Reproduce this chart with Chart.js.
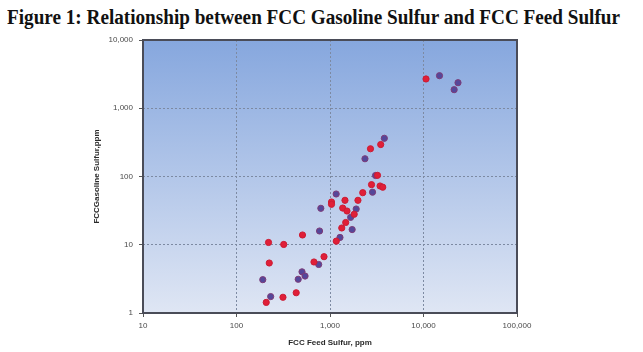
<!DOCTYPE html>
<html>
<head>
<meta charset="utf-8">
<script src="https://cdn.jsdelivr.net/npm/chart.js@4.4.1/dist/chart.umd.min.js"></script>
<style>
  html, body { margin: 0; padding: 0; background: #ffffff; }
  #wrap { position: relative; width: 643px; height: 352px; overflow: hidden; }
  #title { position: absolute; left: 7px; top: 4px; white-space: nowrap;
           font-family: "Liberation Serif", "Times New Roman", serif; font-weight: bold;
           font-size: 20px; color: #111; transform-origin: 0 0; line-height: 26px; }
  canvas { position: absolute; left: 0; top: 0; }
</style>
</head>
<body>
<div id="wrap">
  <div id="title">Figure 1: Relationship between FCC Gasoline Sulfur and FCC Feed Sulfur</div>
  <canvas id="c" width="643" height="352"></canvas>
</div>
<script>
// ---- data ----
const redFeed = [10640, 3486, 2710, 3221, 2780, 3430, 3665, 2240, 1990, 1446, 1038, 1038, 1367, 1520, 1815, 1472, 1336, 1167, 508, 220, 320, 863, 674, 224, 435, 314, 208];
const redGasoline = [2685, 294, 255, 104, 76, 72.6, 69.7, 57.9, 44.8, 44.8, 42.3, 39.1, 34.5, 31.2, 28.0, 21.2, 17.6, 11.3, 13.9, 10.8, 10.1, 6.68, 5.59, 5.40, 1.98, 1.70, 1.43];
const blueFeed = [14830, 23390, 21280, 3811, 2366, 3069, 2850, 1164, 1905, 1663, 1726, 1279, 798, 773, 757, 502, 541, 457, 191, 232];
const blueGasoline = [3000, 2367, 1871, 363, 182, 103.5, 58.9, 55.4, 33.4, 25.2, 16.7, 12.8, 34.2, 15.9, 5.14, 4.01, 3.48, 3.12, 3.08, 1.74];
const xTickValues = [10, 100, 1000, 10000, 100000];
const xTickLabels = ['10', '100', '1,000', '10,000', '100,000'];
const yTickValues = [1, 10, 100, 1000, 10000];
const yTickLabels = ['1', '10', '100', '1,000', '10,000'];
const xTitle = 'FCC Feed Sulfur, ppm';
const yTitle = 'FCCGasoline Sulfur,ppm';

// fit title width
(function(){
  const t = document.getElementById('title');
  const w = t.getBoundingClientRect().width;
  t.style.transform = 'scaleX(' + (613 / w) + ')';
})();

function pts(xs, ys) { return xs.map((x, i) => ({x: x, y: ys[i]})); }

const areaPlugin = {
  id: 'areaPlugin',
  beforeDraw(chart) {
    const {ctx, chartArea: a} = chart;
    const g = ctx.createLinearGradient(0, a.top, 0, a.bottom);
    g.addColorStop(0, '#86a7de');
    g.addColorStop(1, '#dfe6f4');
    ctx.save();
    ctx.fillStyle = g;
    ctx.fillRect(a.left, a.top, a.right - a.left, a.bottom - a.top);
    ctx.restore();
  },
  afterDatasetsDraw(chart) {
    const {ctx, chartArea: a} = chart;
    ctx.save();
    ctx.strokeStyle = '#4a4c58';
    ctx.lineWidth = 2;
    ctx.strokeRect(a.left, a.top, a.right - a.left, a.bottom - a.top);
    ctx.restore();
  }
};

const tickFont = {family: 'Arial, "Liberation Sans", sans-serif', size: 8};
const titleFont = {family: 'Arial, "Liberation Sans", sans-serif', size: 8, weight: 'bold'};
const gridOpts = { color: '#7d8aa2', lineWidth: 1, tickLength: 4, tickColor: '#555', tickBorderDash: [] };
const borderOpts = { display: false, dash: [2, 2] };

new Chart(document.getElementById('c'), {
  type: 'scatter',
  data: {
    datasets: [
      { label: 'Red', data: pts(redFeed, redGasoline), backgroundColor: '#e01f38', borderColor: '#cc1c34', borderWidth: 1, pointRadius: 3.1, pointHoverRadius: 3.1 },
      { label: 'Blue', data: pts(blueFeed, blueGasoline), backgroundColor: '#55479a', borderColor: '#7e3c78', borderWidth: 1, pointRadius: 3.1, pointHoverRadius: 3.1 }
    ]
  },
  options: {
    responsive: false,
    animation: false,
    events: [],
    layout: { padding: { top: 40, right: 126, bottom: 0, left: 0 } },
    plugins: { legend: { display: false }, tooltip: { enabled: false }, title: { display: false } },
    scales: {
      x: {
        type: 'logarithmic', min: 10, max: 100000,
        afterBuildTicks(s) { s.ticks = xTickValues.map(v => ({value: v})); },
        afterFit(s) { s.height = 39; },
        ticks: { font: tickFont, color: '#4a4a4a', padding: 4, maxRotation: 0, autoSkip: false,
                 callback: (v) => xTickLabels[xTickValues.indexOf(v)] },
        grid: gridOpts,
        border: borderOpts,
        title: { display: true, text: xTitle, font: titleFont, color: '#2a2a2a', padding: { top: 0, bottom: 4 } }
      },
      y: {
        type: 'logarithmic', min: 1, max: 10000,
        afterBuildTicks(s) { s.ticks = yTickValues.map(v => ({value: v})); },
        afterFit(s) { s.width = 143; },
        ticks: { font: tickFont, color: '#4a4a4a', padding: 6, autoSkip: false,
                 callback: (v) => yTickLabels[yTickValues.indexOf(v)] },
        grid: gridOpts,
        border: borderOpts,
        title: { display: true, text: yTitle, font: titleFont, color: '#2a2a2a', padding: { top: 92, bottom: 0 } }
      }
    }
  },
  plugins: [areaPlugin]
});
</script>
</body>
</html>
